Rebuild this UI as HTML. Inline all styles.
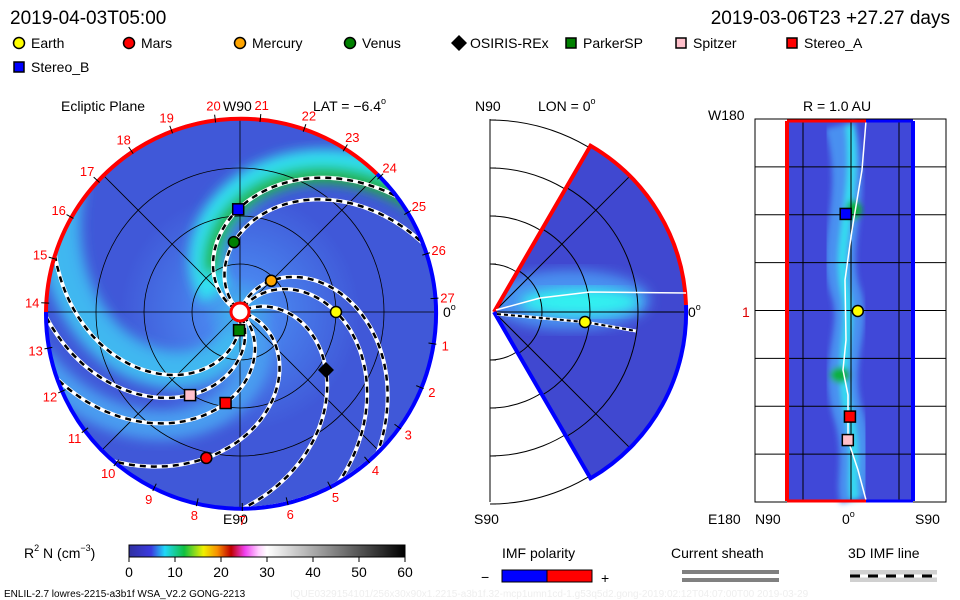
<!DOCTYPE html>
<html><head><meta charset="utf-8"><style>
html,body{margin:0;padding:0;background:#fff;}
svg{display:block;font-family:"Liberation Sans",sans-serif;}
text{font-family:"Liberation Sans",sans-serif;}
</style></head><body>
<svg id="chart" width="960" height="600" viewBox="0 0 960 600" xmlns="http://www.w3.org/2000/svg">
<defs>
<clipPath id="circClip"><circle cx="240" cy="312" r="195"/></clipPath>
<clipPath id="wedgeClip"><path d="M494,312 L590.5,145.7 A192,192 0 0,1 590.5,478.3 Z"/></clipPath>
<filter id="blur6"><feGaussianBlur stdDeviation="6"/></filter>
<filter id="blur3"><feGaussianBlur stdDeviation="3"/></filter>
<radialGradient id="bgGrad" cx="0.5" cy="0.5" r="0.5">
<stop offset="0" stop-color="#40c8f0"/><stop offset="0.3" stop-color="#4a88f0"/><stop offset="1" stop-color="#4058d8"/>
</radialGradient>
<linearGradient id="cbar" x1="0" x2="1" y1="0" y2="0">
<stop offset="0" stop-color="#3030a0"/><stop offset="0.08" stop-color="#3a3ae0"/><stop offset="0.13" stop-color="#20d8f8"/><stop offset="0.2" stop-color="#10c040"/><stop offset="0.27" stop-color="#f0f000"/><stop offset="0.32" stop-color="#f89000"/><stop offset="0.37" stop-color="#c00000"/><stop offset="0.42" stop-color="#f040f0"/><stop offset="0.47" stop-color="#ffd0ff"/><stop offset="0.5" stop-color="#ffffff"/><stop offset="1" stop-color="#000000"/>
</linearGradient>
</defs>

<text x="10" y="24" font-size="19">2019-04-03T05:00</text>
<text x="950" y="24" font-size="19" text-anchor="end">2019-03-06T23 +27.27 days</text>

<g id="legend" font-size="14"></g>

<g>
<text x="61" y="111" font-size="14">Ecliptic Plane</text>
<text x="223" y="111" font-size="14">W90</text>
<text x="313" y="111" font-size="14">LAT = −6.4<tspan font-size="9" dy="-7">o</tspan></text>
<text x="223" y="524" font-size="14">E90</text>
<text x="443" y="317" font-size="14">0<tspan font-size="9" dy="-7">o</tspan></text>
<g clip-path="url(#circClip)">
<circle cx="240" cy="312" r="195" fill="#4058d8"/>
<circle cx="240" cy="312" r="120" fill="url(#bgGrad)" opacity="0.9"/>
<g id="bands" filter="url(#blur6)"></g>
<g id="grid"></g>
<g id="spirals"></g>
</g>
<path d="M377,174 A195,195 0 0,0 46,312" fill="none" stroke="#ff0000" stroke-width="4"/>
<path d="M46,312 A195,195 0 1,0 377,174" fill="none" stroke="#0000ff" stroke-width="4"/>
<g id="ticks" fill="#ff0000" font-size="13"></g>
<circle cx="240" cy="312" r="9" fill="#fff" stroke="#f00" stroke-width="3"/>
<g id="planets"></g>
</g>

<g>
<text x="475" y="111" font-size="14">N90</text>
<text x="538" y="111" font-size="14">LON = 0<tspan font-size="9" dy="-7">o</tspan></text>
<text x="474" y="524" font-size="14">S90</text>
<text x="688" y="317" font-size="14">0<tspan font-size="9" dy="-7">o</tspan></text>
<line x1="490" y1="119" x2="490" y2="502" stroke="#000"/>
<g id="merArcs" fill="none" stroke="#000"></g>
<g clip-path="url(#wedgeClip)">
<rect x="490" y="119" width="210" height="390" fill="#4048d0"/>
<ellipse cx="570" cy="300" rx="80" ry="30" fill="#4a90f0" filter="url(#blur6)"/>
<ellipse cx="580" cy="302" rx="60" ry="14" fill="#30f0f0" filter="url(#blur6)"/>
<g id="merGrid" fill="none" stroke="#000"></g>
</g>
<path d="M494,312 L590.5,145.7 A192,192 0 0,1 686,305" fill="none" stroke="#f00" stroke-width="4"/>
<path d="M494,312 L590.5,478.3 A192,192 0 0,0 686,305" fill="none" stroke="#00f" stroke-width="4"/>
<polyline points="496,310 540,298 590,292 686,293" fill="none" stroke="#fff" stroke-width="1.5"/>
<polyline points="497,314 585,322 636,331" fill="none" stroke="#fff" stroke-width="3"/>
<polyline points="497,314 585,322 636,331" fill="none" stroke="#000" stroke-width="2" stroke-dasharray="4 3"/>
<circle cx="585" cy="322" r="5.5" fill="#ff0" stroke="#000" stroke-width="1.5"/>
</g>

<g>
<text x="803" y="111" font-size="14">R = 1.0 AU</text>
<text x="708" y="120" font-size="14">W180</text>
<text x="708" y="524" font-size="14">E180</text>
<text x="742" y="317" font-size="14" fill="#d00">1</text>
<text x="755" y="524" font-size="14">N90</text>
<text x="842" y="524" font-size="14">0<tspan font-size="9" dy="-7">o</tspan></text>
<text x="915" y="524" font-size="14">S90</text>
<rect x="755" y="119" width="191" height="383" fill="#fff" stroke="#000"/>
<rect x="787" y="121" width="127" height="380" fill="#4048d8"/>
<g filter="url(#blur3)">
<path d="M840,125 C860,200 830,240 845,290 C860,330 830,360 850,420 C860,460 850,480 855,500" fill="none" stroke="#4a90f0" stroke-width="30"/>
<path d="M850,125 C858,200 835,240 845,290 C855,330 835,360 850,420 C858,460 850,480 855,500" fill="none" stroke="#30e0f0" stroke-width="8"/>
<ellipse cx="840" cy="375" rx="10" ry="8" fill="#10b040"/>
<ellipse cx="854" cy="210" rx="8" ry="10" fill="#10b040"/>
</g>
<g id="rGrid" stroke="#000"></g>
<polyline points="866,121 862,170 852,230 845,280 846,340 843,370 848,395 848,440 858,470 866,500" fill="none" stroke="#fff" stroke-width="1.5"/>
<line x1="787" y1="121" x2="787" y2="501" stroke="#f00" stroke-width="4"/>
<line x1="913" y1="121" x2="913" y2="501" stroke="#00f" stroke-width="4"/>
<line x1="787" y1="121" x2="866" y2="121" stroke="#f00" stroke-width="3"/>
<line x1="866" y1="121" x2="913" y2="121" stroke="#00f" stroke-width="3"/>
<line x1="787" y1="501" x2="866" y2="501" stroke="#f00" stroke-width="3"/>
<line x1="866" y1="501" x2="913" y2="501" stroke="#00f" stroke-width="3"/>
<g id="rMarkers"></g>
</g>

<g>
<text x="24" y="558" font-size="14">R<tspan font-size="9" dy="-7">2</tspan><tspan dy="7"> N (cm</tspan><tspan font-size="9" dy="-7">−3</tspan><tspan dy="7">)</tspan></text>
<rect x="129" y="545" width="276" height="12" fill="url(#cbar)" stroke="#000"/>
<g id="cbTicks" font-size="14" text-anchor="middle"></g>
</g>

<g>
<text x="502" y="558" font-size="14">IMF polarity</text>
<text x="481" y="582" font-size="14">−</text>
<rect x="502" y="570" width="45" height="12" fill="#00f" stroke="#000"/>
<rect x="547" y="570" width="45" height="12" fill="#f00" stroke="#000"/>
<text x="601" y="583" font-size="14">+</text>
</g>
<g>
<text x="671" y="558" font-size="14">Current sheath</text>
<rect x="682" y="570" width="97" height="4" fill="#808080"/>
<rect x="682" y="578" width="97" height="4" fill="#808080"/>
</g>
<g>
<text x="848" y="558" font-size="14">3D IMF line</text>
<rect x="850" y="570" width="87" height="12" fill="#d0d0d0"/>
<line x1="850" y1="576" x2="937" y2="576" stroke="#fff" stroke-width="3"/>
<line x1="850" y1="576" x2="937" y2="576" stroke="#000" stroke-width="3" stroke-dasharray="10 8"/>
</g>
<text x="4" y="597" font-size="10">ENLIL-2.7 lowres-2215-a3b1f WSA_V2.2 GONG-2213</text>
<text x="290" y="597" font-size="10" fill="#eee">IQUE0329154101/256x30x90x1.2215-a3b1f.32-mcp1umn1cd-1.g53q5d2.gong-2019:02:12T04:07:00T00    2019-03-29</text>

<script>
const NS='http://www.w3.org/2000/svg';
function mk(tag,attrs,parent){const e=document.createElementNS(NS,tag);for(const k in attrs)e.setAttribute(k,attrs[k]);parent.appendChild(e);return e;}
const planetNames=['Earth','Mars','Mercury','Venus','OSIRIS-REx','ParkerSP','Spitzer','Stereo_A','Stereo_B'];
const planetR=[1.0,1.56,0.46,0.73,1.08,0.19,1.01,0.96,1.07];
const planetLon=[0,257,45,95,-34,-93,-121,-99,91];
const planetShapes=['circle','circle','circle','circle','diamond','square','square','square','square'];
const planetColors=['#ffff00','#ff0000','#ffa500','#008000','#000000','#008000','#ffc0cb','#ff0000','#0000ff'];
const carrLabels=[1,2,3,4,5,6,7,8,9,10,11,12,13,14,15,16,17,18,19,20,21,22,23,24,25,26,27];
const cbTickLabels=[0,10,20,30,40,50,60];
const rPanelIdx=[8,0,7,6];
const rPanelLat=[5,-6.4,1,3];
const CX=240,CY=312,AU=96;
function px(r,deg){const a=deg*Math.PI/180;return [CX+r*AU*Math.cos(a),CY-r*AU*Math.sin(a)];}
function spiral(rp,lp,r){return lp-57*(r-rp);}
const leg=document.getElementById('legend');
const legX=[14,124,235,345,452,566,676,787,14],legY=[48,48,48,48,48,48,48,48,72];
planetNames.forEach((n,i)=>{
 let g=mk('g',{},leg);
 
 
 const x=legX[i],y=legY[i];
 if(planetShapes[i]==='circle')mk('circle',{cx:x+5,cy:y-5,r:5.5,fill:planetColors[i],stroke:'#000','stroke-width':1.5},g);
 else if(planetShapes[i]==='diamond')mk('path',{d:`M${x+7},${y-13} L${x+15},${y-5} L${x+7},${y+3} L${x-1},${y-5}Z`,fill:'#000'},g);
 else mk('rect',{x:x,y:y-10,width:10,height:10,fill:planetColors[i],stroke:'#000','stroke-width':1.5},g);
 const t=mk('text',{x:x+(planetShapes[i]==='diamond'?18:17),y:y},g);t.textContent=n;
});
const bands=document.getElementById('bands');
function spiralPath(rp,lp,r0,r1,off){let d='';for(let r=r0;r<=r1;r+=0.02){const [x,y]=px(r,spiral(rp,lp,r)+off);d+=(d?'L':'M')+x.toFixed(1)+','+y.toFixed(1);}return d;}
mk('path',{d:spiralPath(1.07,91,0.3,2.3,8),fill:'none',stroke:'#30e0f0','stroke-width':34},bands);
mk('path',{d:spiralPath(1.07,91,0.5,2.3,2),fill:'none',stroke:'#20b830','stroke-width':16},bands);
mk('path',{d:spiralPath(1.5,190,0.8,2.3,0),fill:'none',stroke:'#30d8f0','stroke-width':26},bands);
mk('path',{d:spiralPath(1.5,185,1.5,2.3,0),fill:'none',stroke:'#20b040','stroke-width':10},bands);
mk('path',{d:spiralPath(1.0,-100,0.2,2.2,0),fill:'none',stroke:'#4a9cf0','stroke-width':30},bands);
mk('path',{d:spiralPath(1.0,-150,0.2,2.2,0),fill:'none',stroke:'#40b0f0','stroke-width':24},bands);
mk('path',{d:spiralPath(1.0,220,0.2,2.2,0),fill:'none',stroke:'#40b8f0','stroke-width':28},bands);
const grid=document.getElementById('grid');
[48,96,144].forEach(r=>{mk('circle',{cx:CX,cy:CY,r:r,fill:'none',stroke:'#000','stroke-width':0.8},grid);});
for(let a=0;a<360;a+=45){const [x,y]=px(2.1,a);mk('line',{x1:CX,y1:CY,x2:x,y2:y,stroke:'#000','stroke-width':0.8},grid);}
const sp=document.getElementById('spirals');
planetNames.forEach((n,i)=>{
 const d=spiralPath(planetR[i],planetLon[i],0.06,2.1,0);
 mk('path',{d:d,fill:'none',stroke:'#fff','stroke-width':4},sp);
 const p=mk('path',{d:d,fill:'none',stroke:'#000','stroke-width':2.5,'stroke-dasharray':'6 5'},sp);
 
 
});
const tk=document.getElementById('ticks');
carrLabels.forEach(k=>{
 const a=4+(27-k)*360/27;
 const [x,y]=px(208/AU,a);
 const t=mk('text',{x:x.toFixed(1),y:(y+5).toFixed(1),'text-anchor':'middle'},tk);
 
 
 t.textContent=k;
 const [x1,y1]=px(191/AU,a),[x2,y2]=px(199/AU,a);
 mk('line',{x1:x1,y1:y1,x2:x2,y2:y2,stroke:'#000'},tk);
});
const pl=document.getElementById('planets');
function marker(parent,i,x,y,name){
 let e;
 if(planetShapes[i]==='circle')e=mk('circle',{cx:x,cy:y,r:5.5,fill:planetColors[i],stroke:'#000','stroke-width':1.5},parent);
 else if(planetShapes[i]==='diamond')e=mk('path',{d:`M${x},${y-8} L${x+8},${y} L${x},${y+8} L${x-8},${y}Z`,fill:'#000'},parent);
 else e=mk('rect',{x:x-5.5,y:y-5.5,width:11,height:11,fill:planetColors[i],stroke:'#000','stroke-width':1.5},parent);
 
 
}
planetNames.forEach((n,i)=>{const [x,y]=px(planetR[i],planetLon[i]);marker(pl,i,x,y,'planet-'+n.toLowerCase());});
const ma=document.getElementById('merArcs');
[48,96,144,192].forEach(r=>{mk('path',{d:`M490,${312-r} A${r},${r} 0 0,1 490,${312+r}`},ma);mk('line',{x1:490,y1:312-r,x2:496,y2:312-r},ma);mk('line',{x1:490,y1:312+r,x2:496,y2:312+r},ma);});
const mg=document.getElementById('merGrid');
[48,96,144].forEach(r=>{mk('circle',{cx:494,cy:312,r:r},mg);});
[45,0,-45].forEach(a=>{const ar=a*Math.PI/180;mk('line',{x1:494,y1:312,x2:494+200*Math.cos(ar),y2:312-200*Math.sin(ar)},mg);});
const rg=document.getElementById('rGrid');
[803,851,899].forEach(x=>mk('line',{x1:x,y1:119,x2:x,y2:502},rg));
for(let k=1;k<8;k++){const y=119+k*383/8;mk('line',{x1:755,y1:y,x2:946,y2:y},rg);}
const rm=document.getElementById('rMarkers');
function lonY(l){return 311-l*(192/180);}
function latX(l){return 851-l*1.06;}
rPanelIdx.forEach((pi,j)=>{marker(rm,pi,latX(rPanelLat[j]),lonY(planetLon[pi]),'r-panel-'+planetNames[pi].toLowerCase());});
const cb=document.getElementById('cbTicks');
cbTickLabels.forEach(v=>{const x=129+v/60*276;mk('line',{x1:x,y1:557,x2:x,y2:562,stroke:'#000'},cb);const t=mk('text',{x:x,y:577},cb);t.textContent=v;});
</script>
</svg>
</body></html>
